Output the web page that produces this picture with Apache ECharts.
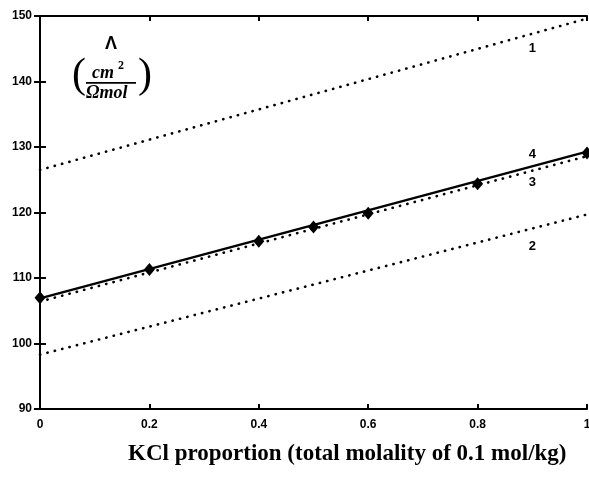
<!DOCTYPE html>
<html>
<head>
<meta charset="UTF-8">
<title>KCl conductivity</title>
<script src="https://cdn.jsdelivr.net/npm/echarts@6/dist/echarts.min.js"></script>
<style>
  html, body { margin: 0; padding: 0; background: #fff; }
  #myChart { width: 589px; height: 487px; }
</style>
</head>
<body>
<div id="myChart"></div>
<script>
// values
var xTicks = [0, 0.2, 0.4, 0.6, 0.8, 1];
var yTicks = [90, 100, 110, 120, 130, 140, 150];
var curve1 = [[0, 126.5], [1, 149.6]];
var curve2 = [[0, 98.3], [1, 119.7]];
var curve3 = [[0, 106.4], [1, 128.6]];
var curve4 = [[0, 106.9], [1, 129.3]];
var measured = [[0, 107.0], [0.2, 111.3], [0.4, 115.6], [0.5, 117.8], [0.6, 119.9], [0.8, 124.4], [1, 129.1]];
var curveLabels = [
  { name: '1', x: 0.9, y: 145.0 },
  { name: '4', x: 0.9, y: 128.9 },
  { name: '3', x: 0.9, y: 124.6 },
  { name: '2', x: 0.9, y: 114.8 }
];
var xTitle = 'KCl proportion (total molality of 0.1 mol/kg)';

var myChart = echarts.init(document.getElementById('myChart'));

function dotted(name, data) {
  return {
    name: name,
    type: 'line',
    data: data,
    showSymbol: false,
    silent: true,
    lineStyle: { color: '#000', width: 2.6, type: [0.3, 7.3], cap: 'round' },
    z: 2
  };
}

var tickFmt = function(v) { return String(v); };
var axisFont = { color: '#000', fontFamily: 'Liberation Sans', fontWeight: 'bold', fontSize: 12 };

var options = {
  animation: false,
  backgroundColor: '#fff',
  grid: { left: 40, right: 2, top: 16, bottom: 78, outerBoundsMode: 'none', containLabel: false },
  xAxis: [{
    type: 'value', min: 0, max: 1, interval: 0.2,
    axisLine: { lineStyle: { color: '#000', width: 2 } },
    axisTick: { inside: true, length: 5, lineStyle: { color: '#000', width: 2 } },
    axisLabel: Object.assign({ margin: 10, formatter: tickFmt, hideOverlap: false }, axisFont),
    splitLine: { show: false }
  }, {
    type: 'value', min: 0, max: 1, interval: 0.2, position: 'top',
    axisLine: { lineStyle: { color: '#000', width: 2 } },
    axisTick: { inside: true, length: 5, lineStyle: { color: '#000', width: 2 } },
    axisLabel: { show: false },
    splitLine: { show: false }
  }],
  yAxis: [{
    type: 'value', min: yTicks[0], max: yTicks[yTicks.length - 1], interval: 10,
    axisLine: { show: true, lineStyle: { color: '#000', width: 2 } },
    axisTick: { show: true, inside: true, length: 6, lineStyle: { color: '#000', width: 2 } },
    axisLabel: Object.assign({ margin: 8 }, axisFont),
    splitLine: { show: false }
  }, {
    type: 'value', min: yTicks[0], max: yTicks[yTicks.length - 1], interval: 10, position: 'right',
    axisLine: { show: true, lineStyle: { color: '#000', width: 2 } },
    axisTick: { show: true, inside: true, length: 6, lineStyle: { color: '#000', width: 2 } },
    axisLabel: { show: false },
    splitLine: { show: false }
  }],
  series: [
    dotted('1', curve1),
    dotted('2', curve2),
    dotted('3', curve3),
    {
      name: '4', type: 'line', data: curve4, showSymbol: false, silent: true,
      lineStyle: { color: '#000', width: 2.4 }, z: 3
    },
    {
      name: 'measured', type: 'scatter', data: measured,
      symbol: 'diamond', symbolSize: [11, 13],
      itemStyle: { color: '#000', opacity: 1 }, z: 4
    },
    {
      name: 'labels', type: 'scatter', symbolSize: 0, silent: true,
      itemStyle: { opacity: 1 },
      data: curveLabels.map(function(d) { return { name: d.name, value: [d.x, d.y] }; }),
      label: {
        show: true, position: 'inside', formatter: '{b}',
        color: '#000', textBorderWidth: 0, fontFamily: 'Liberation Sans', fontWeight: 'bold', fontSize: 13
      }
    }
  ],
  graphic: [
    { type: 'text', left: 105, top: 35, style: { text: 'Λ', fill: '#000', font: 'bold 18px "Liberation Sans"' } },
    { type: 'text', left: 72, top: 55, style: { text: '(', fill: '#000', font: '42px "Liberation Serif"' } },
    { type: 'text', left: 138, top: 55, style: { text: ')', fill: '#000', font: '42px "Liberation Serif"' } },
    { type: 'text', left: 92, top: 64, style: { text: 'cm', fill: '#000', font: 'italic bold 18px "Liberation Serif"' } },
    { type: 'text', left: 118, top: 60, style: { text: '2', fill: '#000', font: 'bold 12px "Liberation Serif"' } },
    { type: 'rect', shape: { x: 86, y: 82, width: 50, height: 1.8 }, style: { fill: '#000' } },
    { type: 'text', left: 86, top: 84, style: { text: 'Ωmol', fill: '#000', font: 'italic bold 18px "Liberation Serif"' } },
    { type: 'text', left: 128, top: 443, style: { text: xTitle, fill: '#000', font: 'bold 23px "Liberation Serif"' } }
  ]
};
myChart.setOption(options);
</script>
</body>
</html>
